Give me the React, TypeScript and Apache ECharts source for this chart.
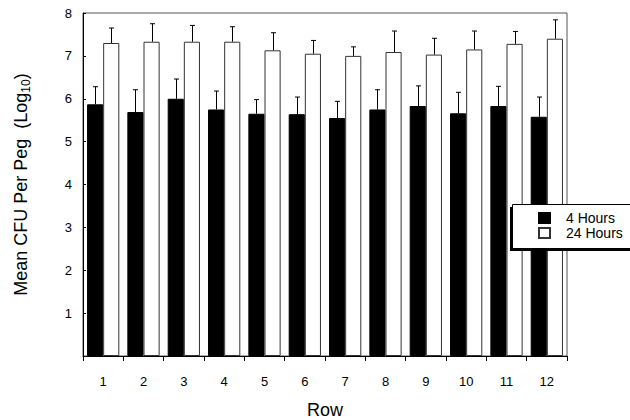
import React, { useEffect, useRef } from "react";
import * as echarts from "echarts";

const rows = ["1", "2", "3", "4", "5", "6", "7", "8", "9", "10", "11", "12"];
const yTicks = [0, 1, 2, 3, 4, 5, 6, 7, 8];
const hours4 = [5.87, 5.69, 6.0, 5.75, 5.65, 5.64, 5.55, 5.75, 5.83, 5.66, 5.83, 5.58];
const hours4Err = [0.41, 0.52, 0.46, 0.43, 0.33, 0.4, 0.39, 0.46, 0.47, 0.49, 0.46, 0.46];
const hours24 = [7.3, 7.33, 7.33, 7.33, 7.13, 7.05, 7.0, 7.09, 7.03, 7.15, 7.28, 7.4];
const hours24Err = [0.35, 0.42, 0.38, 0.35, 0.41, 0.31, 0.21, 0.49, 0.38, 0.43, 0.29, 0.44];

const FONT = "Liberation Sans";

function errSeries(vals: number[], errs: number[], side: number) {
  return {
    type: "custom",
    z: 3,
    silent: true,
    data: vals.map((v, i) => [i, v, v + errs[i]]),
    encode: { x: 0, y: [1, 2] },
    renderItem: (params: any, api: any) => {
      const i = api.value(0);
      const bottom = api.coord([i, api.value(1)]);
      const top = api.coord([i, api.value(2)]);
      const band = api.size([1, 0])[0];
      const bw = (band * 0.8) / 2;
      const x = Math.round(bottom[0] + side * bw / 2) + 0.5;
      const cap = 2.5;
      const style = { stroke: "#000", lineWidth: 1 };
      return {
        type: "group",
        children: [
          { type: "line", shape: { x1: x, y1: bottom[1], x2: x, y2: top[1] }, style },
          { type: "line", shape: { x1: x - cap, y1: top[1], x2: x + cap, y2: top[1] }, style },
        ],
      };
    },
  };
}

export default function App() {
  const ref = useRef<HTMLDivElement>(null);
  useEffect(() => {
    if (!ref.current) return;
    const chart = echarts.init(ref.current, undefined, { renderer: "svg" });
    chart.setOption({
      animation: false,
      textStyle: { fontFamily: FONT },
      grid: {
        left: 83,
        right: 63,
        top: 13,
        bottom: 64,
        containLabel: false,
        outerBoundsMode: "none",
        show: true,
        borderColor: "#555",
        borderWidth: 1,
        backgroundColor: "transparent",
      },
      legend: {
        orient: "vertical",
        left: 533,
        top: 206,
        icon: "rect",
        itemWidth: 11,
        itemHeight: 10,
        itemGap: 1,
        z: 10,
        textStyle: { fontFamily: FONT, fontSize: 14, color: "#000", padding: [0, 0, 0, 11] },
        data: ["4 Hours", "24 Hours"],
      },
      graphic: [
        { type: "rect", z: 5, shape: { x: 510, y: 207, width: 130, height: 44 }, style: { fill: "#000" } },
        { type: "rect", z: 6, shape: { x: 512.5, y: 204.5, width: 130, height: 44 }, style: { fill: "#fff", stroke: "#000", lineWidth: 1 } },
      ],
      xAxis: {
        type: "category",
        data: rows,
        name: "Row",
        nameLocation: "middle",
        nameGap: 45,
        nameTextStyle: { fontFamily: FONT, fontSize: 18, color: "#000" },
        axisLine: { lineStyle: { color: "#000", width: 1 } },
        axisTick: { show: true, length: 5, inside: false, lineStyle: { color: "#000" } },
        axisLabel: { fontFamily: FONT, fontSize: 13, color: "#000", margin: 19 },
      },
      yAxis: {
        type: "value",
        min: yTicks[0],
        max: yTicks[yTicks.length - 1],
        interval: 1,
        name: "{a|Mean CFU Per Peg  (Log}{s|10}{a|)}",
        nameLocation: "middle",
        nameGap: 51,
        nameTextStyle: {
          rich: {
            a: { fontFamily: FONT, fontSize: 18, color: "#000", lineHeight: 22 },
            s: { fontFamily: FONT, fontSize: 12, color: "#000", padding: [10, 0, 0, 0] },
          },
        },
        splitLine: { show: false },
        axisLine: { show: true, lineStyle: { color: "#000", width: 1 } },
        axisTick: { show: true, inside: true, length: 3, lineStyle: { color: "#000" } },
        axisLabel: {
          fontFamily: FONT,
          fontSize: 13,
          color: "#000",
          margin: 11,
          formatter: (v: number) => (v === 0 ? "" : String(v)),
        },
      },
      series: [
        {
          name: "4 Hours",
          type: "bar",
          data: hours4,
          barGap: "0%",
          barCategoryGap: "20%",
          itemStyle: { color: "#000", borderColor: "#000", borderWidth: 1 },
        },
        {
          name: "24 Hours",
          type: "bar",
          data: hours24,
          barGap: "0%",
          barCategoryGap: "20%",
          itemStyle: { color: "#fff", borderColor: "#333", borderWidth: 1 },
        },
        errSeries(hours4, hours4Err, -1),
        errSeries(hours24, hours24Err, 1),
      ],
    });
    return () => chart.dispose();
  }, []);
  return <div ref={ref} style={{ width: 630, height: 420, position: "absolute", left: 0, top: 0 }} />;
}
